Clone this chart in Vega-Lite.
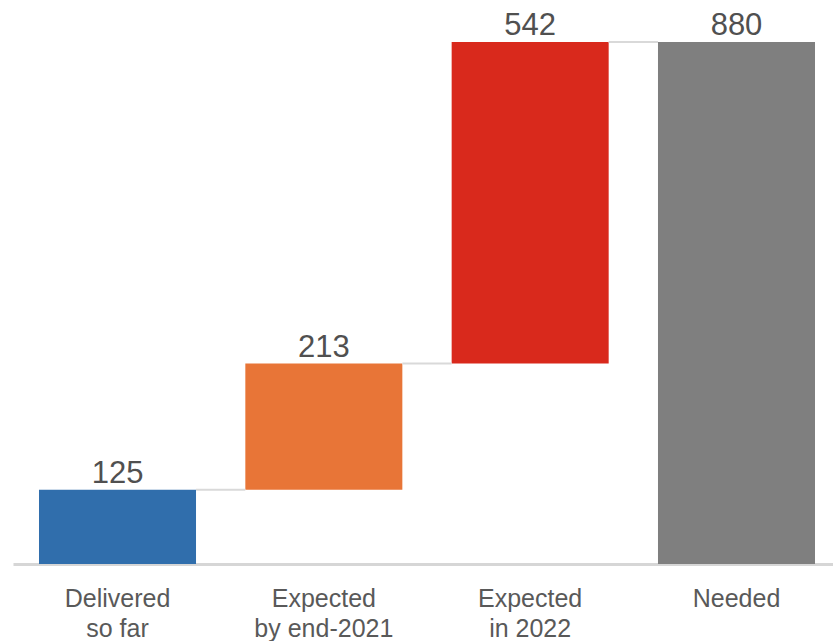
{
  "$schema": "https://vega.github.io/schema/vega-lite/v6.json",
  "autosize": {"type": "none"},
  "padding": {"left": 13, "top": 42, "right": 0, "bottom": 77},
  "width": 820,
  "height": 522,
  "background": "white",
  "config": {
    "view": {"stroke": null},
    "font": "Liberation Sans"
  },
  "datasets": {
    "bars": [
      {"cat": "Delivered|so far", "start": 0, "end": 125, "value": 125, "color": "#306EAC"},
      {"cat": "Expected|by end-2021", "start": 125, "end": 338, "value": 213, "color": "#E87537"},
      {"cat": "Expected|in 2022", "start": 338, "end": 880, "value": 542, "color": "#D9291C"},
      {"cat": "Needed", "start": 0, "end": 880, "value": 880, "color": "#7F7F7F"}
    ],
    "links": [
      {"from": "Delivered|so far", "to": "Expected|by end-2021", "level": 125},
      {"from": "Expected|by end-2021", "to": "Expected|in 2022", "level": 338},
      {"from": "Expected|in 2022", "to": "Needed", "level": 880}
    ]
  },
  "layer": [
    {
      "data": {"name": "bars"},
      "mark": {"type": "bar"},
      "encoding": {
        "x": {
          "field": "cat",
          "type": "nominal",
          "sort": ["Delivered|so far", "Expected|by end-2021", "Expected|in 2022", "Needed"],
          "scale": {"paddingInner": 0.239, "paddingOuter": 0.126, "range": [0, 828]},
          "axis": {
            "title": null,
            "labelAngle": 0,
            "ticks": false,
            "labelPadding": 22,
            "labelFontSize": 25,
            "labelColor": "#595959",
            "labelLineHeight": 30,
            "labelExpr": "split(datum.label, '|')",
            "domainColor": "#D6D6D6",
            "domainWidth": 3,
            "grid": false
          }
        },
        "y": {
          "field": "start",
          "type": "quantitative",
          "scale": {"domain": [0, 880], "nice": false},
          "axis": null
        },
        "y2": {"field": "end"},
        "color": {"field": "color", "type": "nominal", "scale": null}
      }
    },
    {
      "data": {"name": "links"},
      "mark": {"type": "rule", "color": "#D9D9D9", "strokeWidth": 2},
      "encoding": {
        "x": {"field": "from", "type": "nominal", "bandPosition": 1},
        "x2": {"field": "to", "bandPosition": 0},
        "y": {"field": "level", "type": "quantitative"}
      }
    },
    {
      "data": {"name": "bars"},
      "mark": {"type": "text", "fontSize": 31, "color": "#505050", "baseline": "alphabetic", "dy": -7},
      "encoding": {
        "x": {"field": "cat", "type": "nominal"},
        "y": {"field": "end", "type": "quantitative"},
        "text": {"field": "value", "type": "quantitative"}
      }
    }
  ]
}
